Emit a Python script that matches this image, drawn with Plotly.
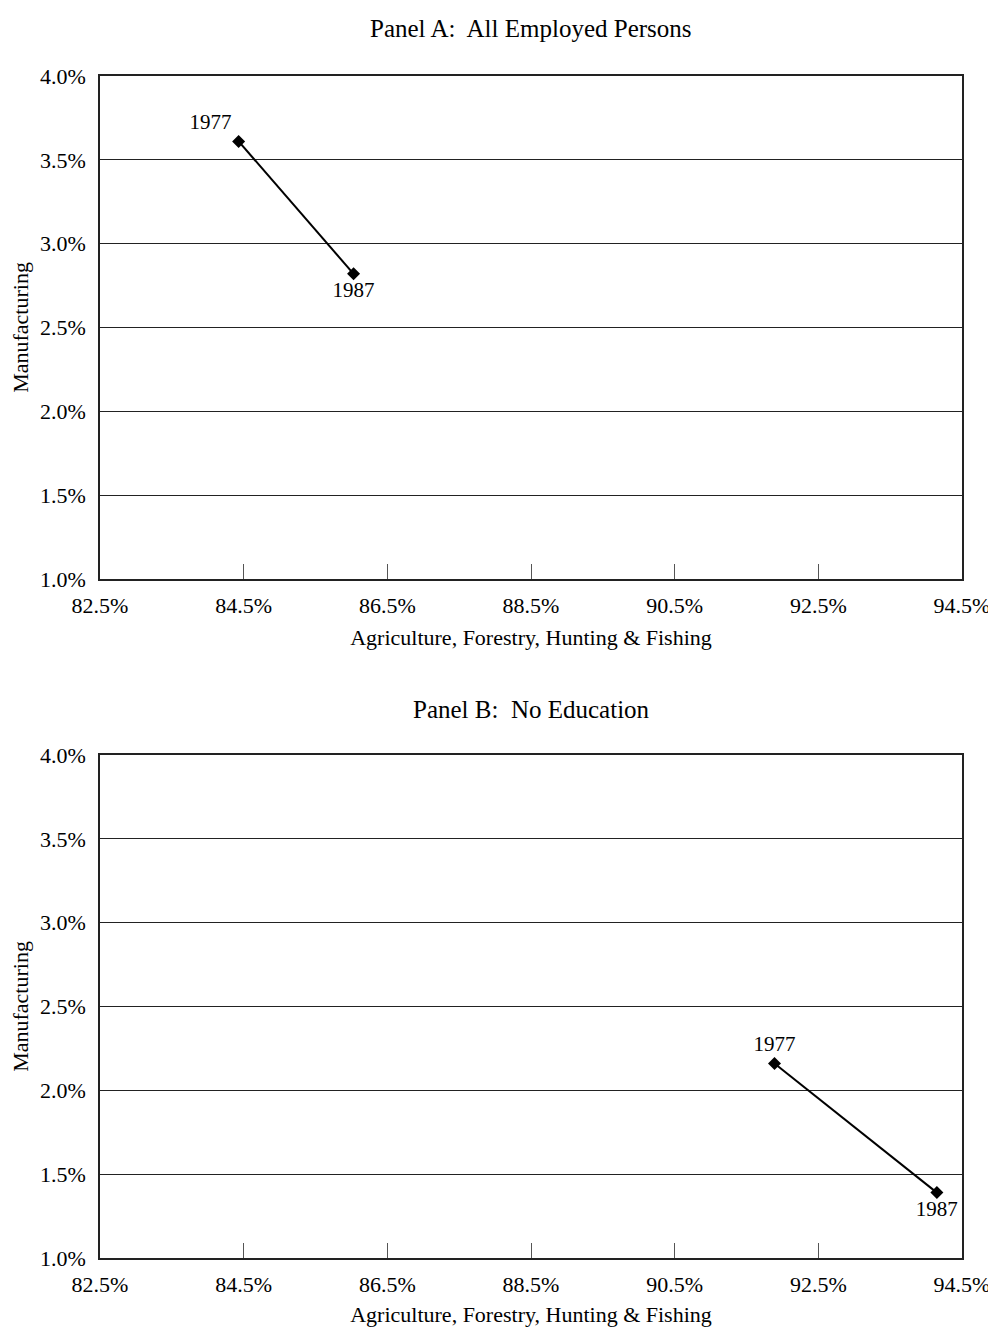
import plotly.graph_objects as go

years = ["1977", "1987"]
panel_a_agri = [84.43, 86.03]
panel_a_manu = [3.61, 2.82]
panel_b_agri = [91.89, 94.15]
panel_b_manu = [2.16, 1.39]

panel_titles = ["Panel A:\u00a0 All Employed Persons", "Panel B:\u00a0 No Education"]
x_title = "Agriculture, Forestry, Hunting & Fishing"
y_title = "Manufacturing"
x_ticks = [82.5, 84.5, 86.5, 88.5, 90.5, 92.5, 94.5]
y_ticks = [1.0, 1.5, 2.0, 2.5, 3.0, 3.5, 4.0]
x_ticktext = [f"{v:.1f}%" for v in x_ticks]
y_ticktext = [f"{v:.1f}%" for v in y_ticks]

FONT = "Liberation Serif"
W, H = 988, 1319
ML, MR, MT, MB = 92, 34, 68, 69
PH = H - MT - MB
panel_h = 503

fig = go.Figure()

fig.add_trace(go.Scatter(
    x=panel_a_agri, y=panel_a_manu, mode="lines+markers+text",
    text=years, textposition=["top left", "bottom center"],
    textfont=dict(family=FONT, size=21, color="black"),
    line=dict(color="black", width=2),
    marker=dict(symbol="diamond", size=10, color="black"),
    xaxis="x", yaxis="y", showlegend=False, cliponaxis=False))

fig.add_trace(go.Scatter(
    x=panel_b_agri, y=panel_b_manu, mode="lines+markers+text",
    text=years, textposition=["top center", "bottom center"],
    textfont=dict(family=FONT, size=21, color="black"),
    line=dict(color="black", width=2),
    marker=dict(symbol="diamond", size=10, color="black"),
    xaxis="x2", yaxis="y2", showlegend=False, cliponaxis=False))

xax = dict(range=[82.5, 94.5], tickmode="array", tickvals=x_ticks, ticktext=x_ticktext,
           ticks="inside", ticklen=15, tickcolor="#555", tickwidth=1,
           showgrid=False, zeroline=False, showline=True, mirror=True,
           linecolor="#222", linewidth=1.5, ticklabelstandoff=6, automargin=False,
           tickfont=dict(family=FONT, size=22, color="black"),
           title=dict(text=x_title, font=dict(family=FONT, size=22, color="black"), standoff=12))
yax = dict(range=[1.0, 4.0], tickmode="array", tickvals=y_ticks, ticktext=y_ticktext,
           ticks="", showgrid=True, gridcolor="#222", gridwidth=1, zeroline=False,
           showline=True, mirror=True, linecolor="#222", linewidth=1.5, automargin=False,
           tickfont=dict(family=FONT, size=22, color="black"), ticklabelstandoff=8,
           title=dict(text=y_title, font=dict(family=FONT, size=22, color="black"), standoff=10))

top_dom = [(PH - panel_h) / PH, 1.0]
bot_dom = [0.0, panel_h / PH]

fig.update_layout(
    width=W, height=H,
    margin=dict(l=ML, r=MR, t=MT, b=MB),
    paper_bgcolor="white", plot_bgcolor="white",
    font=dict(family=FONT, size=22, color="black"),
    xaxis=dict(**xax, anchor="y"),
    yaxis=dict(**yax, domain=top_dom, anchor="x"),
    xaxis2=dict(**xax, anchor="y2"),
    yaxis2=dict(**yax, domain=bot_dom, anchor="x2"),
    annotations=[
        dict(text=panel_titles[0], xref="paper", yref="paper", x=0.5,
             y=(H - 20 - MB) / PH, xanchor="center", yanchor="middle",
             showarrow=False, font=dict(family=FONT, size=25, color="black")),
        dict(text=panel_titles[1], xref="paper", yref="paper", x=0.5,
             y=(H - 701 - MB) / PH, xanchor="center", yanchor="middle",
             showarrow=False, font=dict(family=FONT, size=25, color="black")),
    ],
)

fig.write_html("out.html")
